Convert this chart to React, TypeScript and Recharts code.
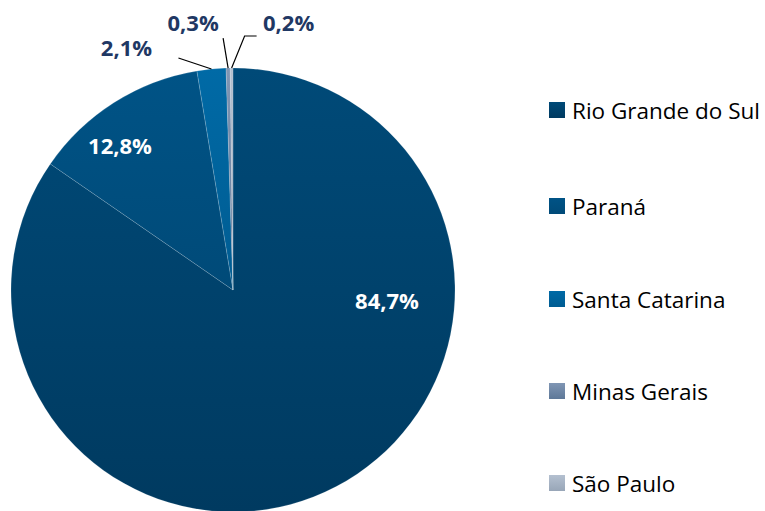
import React from 'react';
import { PieChart, Pie, Cell } from 'recharts';

const states = ['Rio Grande do Sul', 'Paraná', 'Santa Catarina', 'Minas Gerais', 'São Paulo'];
const shares = [84.7, 12.8, 2.1, 0.3, 0.2];
const shareLabels = ['84,7%', '12,8%', '2,1%', '0,3%', '0,2%'];

const colorsTop = ['#004a78', '#005386', '#006aa6', '#8096b4', '#b4c0d0'];
const colorsBottom = ['#003a60', '#004a78', '#005c92', '#5e7898', '#98a6b8'];

const chartData = states.map((name, i) => ({ name, value: shares[i], label: shareLabels[i] }));

const RAD = Math.PI / 180;
const FONT = "'Open Sans', Lato, sans-serif";

// inside labels placed relative to the centre (like Excel's best fit)
const insideOffsets: Record<number, [number, number]> = {
    0: [154, 10],
    1: [-113, -145],
};

const renderLabel = (props: any) => {
    const { cx, cy, midAngle, outerRadius, index } = props;
    const lbl = shareLabels[index];
    if (insideOffsets[index]) {
        const [dx, dy] = insideOffsets[index];
        return (
            <text x={cx + dx} y={cy + dy} fill="#ffffff" fontSize={22} fontWeight="bold"
                textAnchor="middle" dominantBaseline="central" fontFamily={FONT}>
                {lbl}
            </text>
        );
    }
    const px = cx + outerRadius * Math.cos(-midAngle * RAD);
    const py = cy + outerRadius * Math.sin(-midAngle * RAD);
    let path = '';
    let tx = 0;
    let ty = 0;
    if (index === 2) {
        path = `M${px},${py} L${px - 33},${py - 11}`;
        tx = px - 85;
        ty = py - 22;
    } else if (index === 3) {
        path = `M${px},${py} L${px - 5},${py - 30}`;
        tx = px - 35;
        ty = py - 46;
    } else {
        path = `M${px},${py} L${px + 13},${py - 32} L${px + 25},${py - 32}`;
        tx = px + 57;
        ty = py - 46;
    }
    return (
        <g>
            <path d={path} stroke="#000000" strokeWidth={1.2} fill="none" />
            <text x={tx} y={ty} fill="#1f3864" fontSize={22} fontWeight="bold"
                textAnchor="middle" dominantBaseline="central" fontFamily={FONT}>
                {lbl}
            </text>
        </g>
    );
};

const legendY = [110, 206, 299, 391, 483];

export default function App() {
    return (
        <div style={{ position: 'absolute', left: 0, top: 0, width: 765, height: 511, background: '#ffffff' }}>
            <PieChart width={765} height={511} margin={{ top: 0, right: 0, bottom: 0, left: 0 }}>
                <defs>
                    {states.map((s, i) => (
                        <linearGradient key={s} id={`g${i}`} x1="0" y1="0" x2="0" y2="1">
                            <stop offset="0%" stopColor={colorsTop[i]} />
                            <stop offset="100%" stopColor={colorsBottom[i]} />
                        </linearGradient>
                    ))}
                </defs>
                <Pie
                    data={chartData}
                    dataKey="value"
                    nameKey="name"
                    cx={233}
                    cy={290}
                    outerRadius={222}
                    startAngle={90}
                    endAngle={-270}
                    label={renderLabel}
                    labelLine={false}
                    stroke="rgba(255,255,255,0.25)"
                    strokeWidth={0.6}
                    isAnimationActive={false}
                >
                    {chartData.map((d, i) => (
                        <Cell key={d.name} fill={`url(#g${i})`} />
                    ))}
                </Pie>
                {states.map((s, i) => (
                    <g key={s}>
                        <rect x={549} y={legendY[i] - 8} width={16} height={16} fill={`url(#g${i})`} />
                        <text x={572} y={legendY[i]} fontSize={22.5} fill="#000000" dominantBaseline="central"
                            fontFamily={FONT}>
                            {s}
                        </text>
                    </g>
                ))}
            </PieChart>
        </div>
    );
}
